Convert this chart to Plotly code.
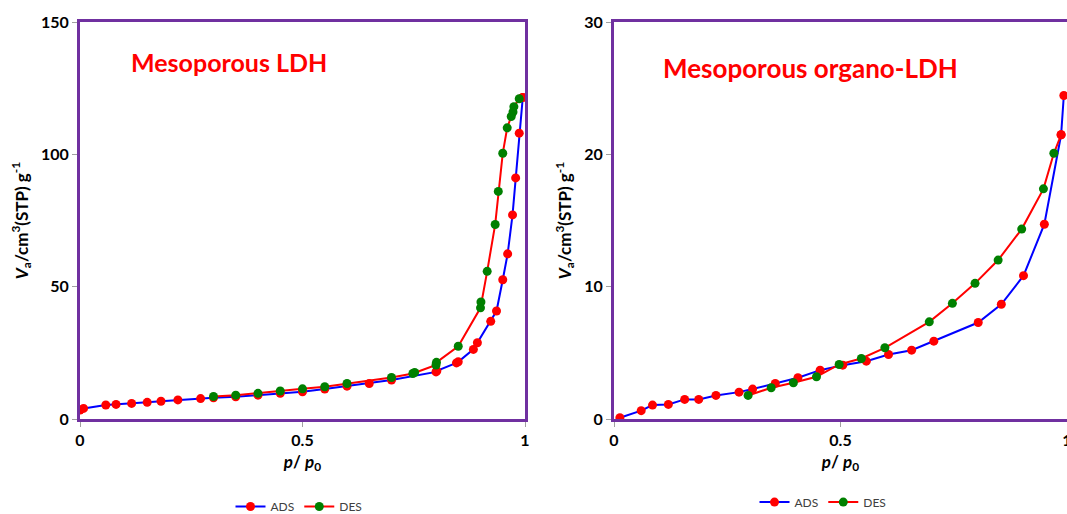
import plotly.graph_objects as go

# ---- data: Mesoporous LDH ----
ldh_ads_x = [0.0, 0.008, 0.058, 0.081, 0.116, 0.151, 0.182, 0.22, 0.271, 0.30, 0.35, 0.40, 0.45, 0.50,
             0.55, 0.60, 0.65, 0.70, 0.80, 0.802, 0.846, 0.85, 0.884, 0.893, 0.923, 0.936, 0.950, 0.961,
             0.972, 0.979, 0.987, 0.995]
ldh_ads_y = [3.4, 4.0, 5.3, 5.5, 5.9, 6.3, 6.7, 7.2, 7.7, 8.0, 8.4, 9.0, 9.7, 10.3,
             11.3, 12.4, 13.4, 14.7, 17.8, 18.2, 21.2, 21.6, 26.3, 28.8, 36.9, 40.8, 52.6, 62.4,
             77.1, 91.1, 108.0, 121.5]
ldh_des_x = [0.995, 0.987, 0.975, 0.973, 0.969, 0.960, 0.950, 0.940, 0.933, 0.915, 0.901, 0.900,
             0.850, 0.801, 0.800, 0.752, 0.748, 0.70, 0.60, 0.55, 0.50, 0.45, 0.40, 0.35, 0.30]
ldh_des_y = [121.5, 121.0, 118.0, 116.0, 114.3, 110.0, 100.4, 86.0, 73.5, 55.8, 44.2, 42.0,
             27.5, 21.4, 20.4, 17.6, 17.2, 15.7, 13.4, 12.2, 11.4, 10.6, 9.7, 9.0, 8.5]

# ---- data: Mesoporous organo-LDH ----
org_ads_x = [0.013, 0.06, 0.085, 0.12, 0.156, 0.187, 0.225, 0.276, 0.306, 0.356, 0.406, 0.455,
             0.505, 0.557, 0.606, 0.657, 0.706, 0.804, 0.855, 0.904, 0.95, 0.987, 0.993]
org_ads_y = [0.1, 0.63, 1.05, 1.1, 1.48, 1.48, 1.78, 2.03, 2.26, 2.69, 3.12, 3.69,
             4.07, 4.37, 4.87, 5.2, 5.88, 7.29, 8.67, 10.83, 14.72, 21.48, 24.45]
org_des_x = [0.987, 0.971, 0.948, 0.90, 0.848, 0.797, 0.747, 0.696, 0.598, 0.546, 0.497, 0.447,
             0.396, 0.347, 0.296]
org_des_y = [21.48, 20.08, 17.39, 14.35, 12.01, 10.25, 8.74, 7.34, 5.38, 4.57, 4.12, 3.19,
             2.74, 2.36, 1.78]

x_ticks = [0, 0.5, 1]
x_tick_text = ["0", "0.5", "1"]
ldh_y_ticks = [0, 50, 100, 150]
org_y_ticks = [0, 10, 20, 30]
panel_titles = ["Mesoporous LDH", "Mesoporous organo-LDH"]
series_names = ["ADS", "DES"]

FONT = "Lato"
PURPLE = "#7030A0"
RED = "#FF0000"
GREEN = "#008000"
BLUE = "#0000FF"
MS = 9

fig = go.Figure()

def add_panel(xa, ya, legend, ax, ay, dx, dy):
    fig.add_trace(go.Scatter(
        x=ax, y=ay, mode="lines+markers", name=series_names[0],
        line=dict(color=BLUE, width=2), marker=dict(color=RED, size=MS),
        xaxis=xa, yaxis=ya, legend=legend))
    fig.add_trace(go.Scatter(
        x=dx, y=dy, mode="lines+markers", name=series_names[1],
        line=dict(color=RED, width=2),
        marker=dict(color=[RED] + [GREEN] * (len(dx) - 1), size=MS),
        xaxis=xa, yaxis=ya, legend=legend, showlegend=False))
    # legend proxy for DES
    fig.add_trace(go.Scatter(
        x=[None], y=[None], mode="lines+markers", name=series_names[1],
        line=dict(color=RED, width=2), marker=dict(color=GREEN, size=MS),
        xaxis=xa, yaxis=ya, legend=legend))

add_panel("x", "y", "legend", ldh_ads_x, ldh_ads_y, ldh_des_x, ldh_des_y)
add_panel("x2", "y2", "legend2", org_ads_x, org_ads_y, org_des_x, org_des_y)

W, H = 1067, 514
def px_x(p):
    return p / W
def px_y(p):
    return 1 - p / H

tickfont = dict(family=FONT, size=16, color="#000000", weight="bold")
common_x = dict(range=[0, 1], tickvals=x_ticks, ticktext=x_tick_text, showgrid=False, zeroline=False,
                showline=True, mirror=True, linecolor=PURPLE, linewidth=3, automargin=False,
                ticks="outside", ticklen=5, tickcolor="#A0A0A0", tickwidth=1,
                tickfont=tickfont, ticklabeloverflow="allow",
                title=dict(text="<i>p</i>/ <i>p</i><sub>0</sub>", font=dict(family=FONT, size=17, color="#000000", weight="bold"),
                           standoff=8))
common_y = dict(showgrid=False, zeroline=False,
                showline=True, mirror=True, linecolor=PURPLE, linewidth=3, automargin=False,
                ticks="outside", ticklen=5, tickcolor="#A0A0A0", tickwidth=1,
                tickfont=tickfont, ticklabeloverflow="allow",
                title=dict(text="<i>V</i><sub>a</sub>/cm<sup>3</sup>(STP) g<sup>-1</sup>",
                           font=dict(family=FONT, size=17, color="#000000", weight="bold"), standoff=9))

legend_common = dict(orientation="h", xanchor="center", yanchor="bottom",
                     font=dict(family=FONT, size=12, color="#404040"), itemwidth=30,
                     bgcolor="rgba(0,0,0,0)", tracegroupgap=0)

fig.update_layout(
    width=W, height=H,
    margin=dict(l=0, r=0, t=0, b=0, autoexpand=False),
    paper_bgcolor="white", plot_bgcolor="white",
    font=dict(family=FONT),
    xaxis=dict(domain=[px_x(80), px_x(525)], anchor="y", **common_x),
    yaxis=dict(domain=[px_y(419), px_y(22)], anchor="x", range=[0, 150], tickvals=ldh_y_ticks, **common_y),
    xaxis2=dict(domain=[px_x(614), 1.0], anchor="y2", **common_x),
    yaxis2=dict(domain=[px_y(419), px_y(22)], anchor="x2", range=[0, 30], tickvals=org_y_ticks, **common_y),
    legend=dict(x=px_x(299), y=-0.0136, **legend_common),
    legend2=dict(x=px_x(823), y=-0.005, **legend_common),
    annotations=[
        dict(text=panel_titles[0], x=px_x(129), y=px_y(62), xref="paper", yref="paper",
             xanchor="left", yanchor="middle", showarrow=False,
             font=dict(family=FONT, size=25, color=RED, weight="bold")),
        dict(text=panel_titles[1], x=px_x(661), y=px_y(68), xref="paper", yref="paper",
             xanchor="left", yanchor="middle", showarrow=False,
             font=dict(family=FONT, size=26, color=RED, weight="bold")),
    ],
)

fig.write_html("out.html", config={"displayModeBar": False},
               post_script="document.body.style.margin='0';document.body.style.overflow='hidden';")
